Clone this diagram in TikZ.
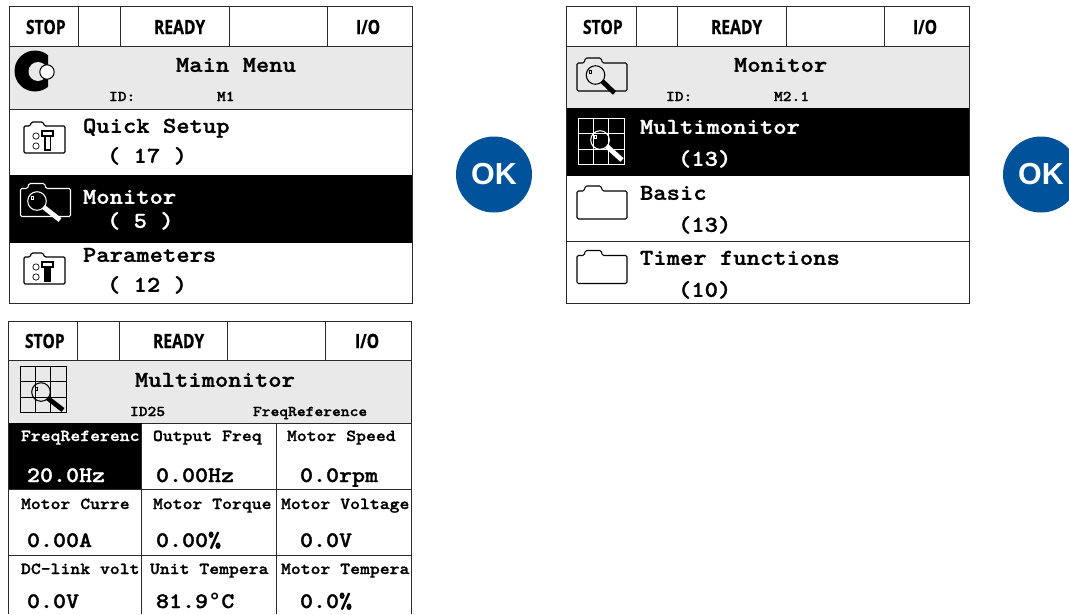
\documentclass[tikz,border=0pt]{standalone}
\usepackage{fontspec}
\setmainfont{Liberation Sans}
\newfontfamily\hdfont[FakeStretch=0.8,FakeBold=0.5]{Open Sans}
\newfontfamily\cmono[FakeStretch=1.12,BoldFeatures={FakeBold=1.2}]{Latin Modern Mono Light}
\newfontfamily\degfont{Liberation Mono}
\definecolor{okblue}{HTML}{00529B}
\definecolor{bandgrey}{HTML}{E9E9E9}
\definecolor{frameline}{HTML}{2A2A2A}
\tikzset{
  x=0.75pt, y=-0.75pt,
  grid line/.style={draw=frameline, line width=0.75pt},
  txt/.style={anchor=base west, inner sep=0pt, outer sep=0pt, text=black},
  head/.style={txt, font=\hdfont\bfseries\fontsize{14.7}{16}\selectfont},
  big/.style={txt, yshift=-0.6pt, font=\cmono\bfseries\fontsize{17}{20}\selectfont},
  tiny/.style={txt, font=\cmono\bfseries\fontsize{11.2}{13}\selectfont},
  cell/.style={txt, font=\cmono\bfseries\fontsize{12.6}{14}\selectfont},
  val/.style={txt, yshift=-0.75pt, font=\cmono\bfseries\fontsize{16.6}{20}\selectfont},
  inv/.style={text=white},
  okcircle/.style={circle, fill=okblue, minimum size=57pt, inner sep=0pt, text=white, font=\bfseries\fontsize{22.8}{24}\selectfont},
  pics/foldershape/.style={code={
    \draw[#1, line width=0.8pt, rounded corners=1pt] (0,33) -- (0,5) -- (7,5) -- (8.5,0) -- (24,0) -- (25.5,5) -- (50,5) -- (50,33) -- cycle;
  }},
  pics/lens/.style args={#1/#2/#3}{code={
    \draw[#1, line width=0.8pt] (0,0) circle[radius=9.3];
    \draw[#1, line width=0.5pt] (-6,-5) rectangle (-4,-2);
    \draw[#1, line width=3.6pt] (6.5,6) -- (#2,#3);
  }},
  pics/gridicon/.style={code={
    \draw[#1, line width=0.7pt] (0,0) rectangle (46,46);
    \draw[#1, line width=0.7pt] (15,0) -- (15,46) (30,0) -- (30,46) (0,15) -- (46,15) (0,31) -- (46,31);
  }},
  pics/toolbox/.style={code={
    \draw[black, line width=0.9pt, rounded corners=1pt] (0,31) -- (0,4) -- (6,4) -- (7.5,0) -- (19,0) -- (20.5,4) -- (41,4) -- (41,31) -- cycle;
    \draw[black, line width=0.5pt] (12,14) circle[radius=3.2] (12,24) circle[radius=3.2];
    \draw[black, line width=1pt, fill=#1] (21,14) rectangle (26.5,28);
    \draw[black, line width=0.8pt, fill=white] (18,9) rectangle (29,14);
  }},
}
\begin{document}
\begin{tikzpicture}
\useasboundingbox (0,0) rectangle (1069,614);
\clip (0,0) rectangle (1069,614);
\fill[white] (0,0) rectangle (1069,614);

% ---------- panel 1
\fill[bandgrey] (9.5,46.5) rectangle (412,109);
\fill[black] (9.5,175) rectangle (412,243);
\draw[grid line] (9.5,6.5) rectangle (412.5,303.5);
\draw[grid line] (9.5,46.5) -- (412.5,46.5) (9.5,109.5) -- (412.5,109.5);
\draw[grid line] (78.5,6.5) -- (78.5,46.5) (120.5,6.5) -- (120.5,46.5) (229.5,6.5) -- (229.5,46.5) (327.5,6.5) -- (327.5,46.5);
\node[head] (a1) at (26,34) {STOP};
\node[head] (a2) at (154,34) {READY};
\node[head] (a3) at (356,34) {I/O};
\node[big] (a4) at (176,71) {Main Menu};
\node[tiny] (a5) at (109,101) {ID:};
\node[tiny] (a6) at (217,101) {M1};
\node[big] (a7) at (83,132) {Quick Setup};
\node[big] (a8) at (107,162) {( 17 )};
\node[big,inv] (a9) at (83,203) {Monitor};
\node[big,inv] (a10) at (107,227) {( 5 )};
\node[big] (a11) at (83,261) {Parameters};
\node[big] (a12) at (107,291) {( 12 )};
% logo
\begin{scope}
  \clip (10,47) rectangle (48,100);
  \fill[black] (35,71) circle[radius=20.5];
  \fill[bandgrey] (38,71.5) circle[radius=9.5];
\end{scope}
\draw[black, fill=white, line width=0.8pt] (47,72) circle[radius=7.2];
\pic at (24,122) {toolbox=white};
\pic at (24,253) {toolbox=black};
\pic at (20.5,183.5) {foldershape=white};
\pic at (37,201) {lens=white/23/19};

% OK 1
\node[okcircle] (ok1) at (494,174.5) {\raisebox{-1.4pt}{OK}};
\node[okcircle] (ok2) at (1041,174.5) {\raisebox{-1.4pt}{OK}};

% ---------- panel 2
\fill[bandgrey] (566.5,46.5) rectangle (969.5,108);
\fill[black] (566.5,108) rectangle (969.5,176);
\draw[grid line] (566.5,6.5) rectangle (969.5,303.5);
\draw[grid line] (566.5,46.5) -- (969.5,46.5) (566.5,241.5) -- (969.5,241.5);
\draw[grid line] (636.5,6.5) -- (636.5,46.5) (677.5,6.5) -- (677.5,46.5) (786.5,6.5) -- (786.5,46.5) (884.5,6.5) -- (884.5,46.5);
\node[head] (b1) at (583,34) {STOP};
\node[head] (b2) at (711,34) {READY};
\node[head] (b3) at (913,34) {I/O};
\node[big] (b4) at (734,71) {Monitor};
\node[tiny] (b5) at (666,101) {ID:};
\node[tiny] (b6) at (774,101) {M2.1};
\node[big,inv] (b7) at (640,133) {Multimonitor};
\node[big,inv] (b8) at (678,165) {(13)};
\node[big] (b9) at (640,199) {Basic};
\node[big] (b10) at (678,231) {(13)};
\node[big] (b11) at (640,264) {Timer functions};
\node[big] (b12) at (678,296) {(10)};
\pic at (577,58) {foldershape=black};
\pic at (595.5,75) {lens=black/19/18};
\pic at (578.5,118) {gridicon=white};
\pic at (600,140) {lens=white/22/20};
\pic at (577,186) {foldershape=black};
\pic at (577,250.5) {foldershape=black};

% ---------- panel 3
\fill[bandgrey] (8.5,361) rectangle (411,423);
\fill[black] (9,423) rectangle (141.5,490);
\draw[grid line] (8.5,614) -- (8.5,321.5) -- (411,321.5) -- (411,614);
\draw[grid line] (8.5,360.5) -- (411,360.5) (141.5,423.5) -- (411,423.5) (8.5,555.5) -- (411,555.5) (141.5,489.5) -- (411,489.5) (8.5,489.5) -- (141.5,489.5);
\draw[grid line] (77.5,321.5) -- (77.5,360.5) (119,321.5) -- (119,360.5) (227.5,321.5) -- (227.5,360.5) (325.5,321.5) -- (325.5,360.5);
\draw[grid line] (141.5,423.5) -- (141.5,614) (276.5,423.5) -- (276.5,614);
\node[head] (c1) at (25,348) {STOP};
\node[head] (c2) at (153,348) {READY};
\node[head] (c3) at (355,348) {I/O};
\node[big] (c4) at (135,386) {Multimonitor};
\node[tiny] (c5) at (130,416) {ID25};
\node[tiny] (c6) at (253,416) {FreqReference};
\pic at (20,366) {gridicon=black};
\pic at (41,392) {lens=black/22/18};
\node[cell,inv] (d1) at (21,441) {FreqReferenc};
\node[cell] (d2) at (153,441) {Output Freq};
\node[cell] (d3) at (287,441) {Motor Speed};
\node[val,inv] (e1) at (27,481) {20.0Hz};
\node[val] (e2) at (156,481) {0.00Hz};
\node[val] (e3) at (300,481) {0.0rpm};
\node[cell] (d4) at (21,509) {Motor Curre};
\node[cell] (d5) at (153,509) {Motor Torque};
\node[cell] (d6) at (281,509) {Motor Voltage};
\node[val] (e4) at (27,546) {0.00A};
\node[val] (e5) at (156,546) {0.00\%};
\node[val] (e6) at (300,546) {0.0V};
\node[cell] (d7) at (21,574) {DC-link volt};
\node[cell] (d8) at (150,574) {Unit Tempera};
\node[cell] (d9) at (281,574) {Motor Tempera};
\node[val] (e7) at (27,607) {0.0V};
\node[val] (e8) at (156,607) {81.9{\degfont\bfseries °}C};
\node[val] (e9) at (300,607) {0.0\%};
\end{tikzpicture}
\end{document}
